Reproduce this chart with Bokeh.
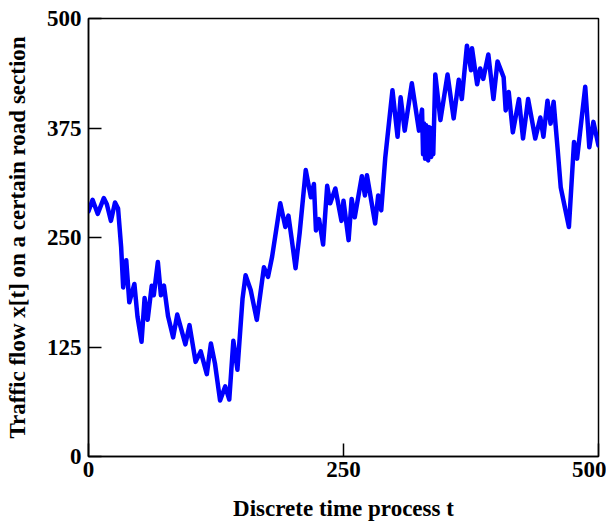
from bokeh.plotting import figure
from bokeh.models import Range1d, FixedTicker
from bokeh.embed import file_html
from bokeh.resources import INLINE

# Discrete time t and traffic flow x[t]
t = [0, 4, 9, 15, 18, 22, 26, 29, 32, 34, 37, 40, 45, 48, 52, 55, 58, 62, 64, 68,
     71, 74, 78, 83, 87, 95, 99, 105, 110, 116, 120, 124, 129, 134, 138, 142, 146,
     151, 154, 159, 165, 172, 176, 180, 188, 193, 196, 199, 203, 207, 213, 218, 221,
     223, 226, 230, 234, 237, 242, 248, 250, 255, 258, 261, 268, 271, 273, 281, 284,
     287, 291, 298, 303, 306, 310, 317, 324, 327, 328, 329, 330, 331, 333, 334, 336,
     337, 338, 340, 345, 352, 358, 363, 366, 371, 375, 376, 381, 384, 387, 392, 397,
     401, 407, 409, 412, 416, 422, 426, 431, 438, 443, 446, 450, 453, 456, 460, 463,
     471, 476, 479, 487, 491, 495, 500]
flow = [280, 293, 277, 295, 288, 269, 290, 283, 239, 193, 224, 176, 197, 160, 131,
        181, 156, 195, 184, 222, 184, 195, 160, 136, 162, 128, 150, 108, 120, 94, 129,
        106, 64, 80, 65, 132, 99, 180, 207, 190, 156, 216, 205, 228, 289, 262, 275,
        250, 215, 255, 327, 296, 311, 258, 271, 242, 309, 289, 306, 269, 292, 247, 294,
        273, 320, 298, 321, 266, 298, 281, 342, 418, 365, 410, 372, 426, 372, 396, 345,
        380, 340, 378, 338, 376, 342, 375, 345, 436, 384, 436, 386, 430, 408, 469, 441,
        466, 425, 443, 431, 459, 408, 451, 433, 395, 416, 370, 408, 363, 408, 363, 387,
        365, 406, 380, 405, 350, 307, 262, 359, 340, 422, 353, 382, 355]

x_ticks = [0, 250, 500]
y_ticks = [0, 125, 250, 375, 500]

FONT = "Liberation Serif"

p = figure(width=606, height=524, output_backend="svg", toolbar_location=None,
           x_range=Range1d(0, 500), y_range=Range1d(0, 500),
           min_border_left=88, min_border_right=8, min_border_top=18,
           min_border_bottom=68)

p.line(t, flow, line_color="#0000FF", line_width=4.5, line_join="round",
       line_cap="round")

p.xgrid.visible = False
p.ygrid.visible = False
p.outline_line_color = "black"
p.outline_line_width = 1.5
p.outline_line_alpha = 1.0

p.xaxis.ticker = FixedTicker(ticks=x_ticks)
p.yaxis.ticker = FixedTicker(ticks=y_ticks)
for ax in (p.xaxis, p.yaxis):
    ax.major_tick_in = 13
    ax.major_tick_out = 0
    ax.minor_tick_in = 0
    ax.minor_tick_out = 0
    ax.major_tick_line_color = "black"
    ax.major_tick_line_width = 1.5
    ax.axis_line_color = "black"
    ax.axis_line_width = 1.5
    ax.major_label_text_font = FONT
    ax.major_label_text_font_style = "bold"
    ax.major_label_text_font_size = "23px"
    ax.major_label_text_color = "black"
    ax.axis_label_text_font = FONT
    ax.axis_label_text_font_style = "bold"
    ax.axis_label_text_font_size = "23px"
    ax.axis_label_text_color = "black"

p.xaxis.axis_label = "Discrete time process t"
p.yaxis.axis_label = "Traffic flow x[t] on a certain road section"
p.xaxis.major_label_standoff = 5
p.yaxis.major_label_standoff = 7
p.xaxis.axis_label_standoff = 16
p.yaxis.axis_label_standoff = 14

open("out.html", "w").write(file_html(p, INLINE))
